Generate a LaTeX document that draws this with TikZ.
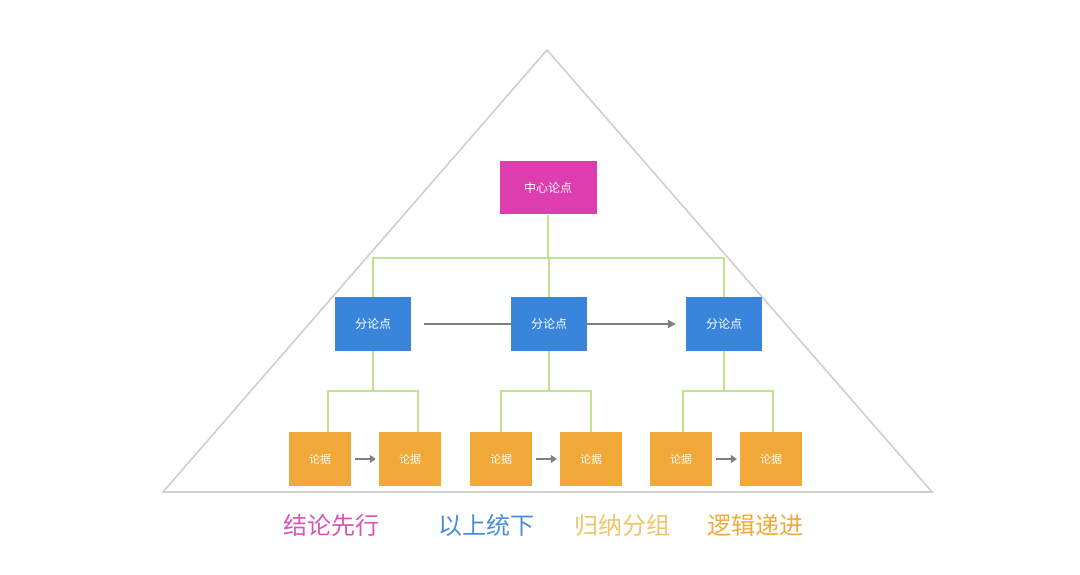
\documentclass[tikz,border=0pt]{standalone}
\usepackage{fontspec}
\setmainfont{Noto Sans CJK SC}
\usetikzlibrary{arrows.meta}
\definecolor{cpink}{HTML}{DD3DAF}
\definecolor{cblue}{HTML}{3A85DC}
\definecolor{corange}{HTML}{F0A838}
\definecolor{cgreen}{HTML}{BFE38F}
\definecolor{cgrayarr}{HTML}{7F7F82}
\definecolor{ctri}{HTML}{CFCFCF}
\definecolor{tpink}{HTML}{D954B8}
\definecolor{tblue}{HTML}{4A8FD6}
\definecolor{tyellow}{HTML}{EFC56A}
\definecolor{torange}{HTML}{EFAA3A}
\tikzset{
  centerbox/.style={fill=cpink, draw=none, minimum width=97pt, minimum height=53pt, text=white, font=\fontsize{12}{12}\selectfont, inner sep=0pt},
  subbox/.style={fill=cblue, draw=none, minimum width=76pt, minimum height=54pt, text=white, font=\fontsize{12}{12}\selectfont, inner sep=0pt},
  leafbox/.style={fill=corange, draw=none, minimum width=62pt, minimum height=54pt, text=white, font=\fontsize{11}{11}\selectfont, inner sep=0pt},
  tree/.style={draw=cgreen, line width=1.6pt},
  bigarrow/.style={draw=cgrayarr, line width=2.8pt, -{Triangle[length=8pt,width=8pt]}},
  bigline/.style={draw=cgrayarr, line width=2.8pt},
  smallarrow/.style={draw=cgrayarr, line width=2.4pt, -{Triangle[length=6pt,width=8pt]}},
  motto/.style={font=\fontsize{24}{24}\selectfont, inner sep=0pt},
}
\begin{document}
\begin{tikzpicture}[x=1pt, y=-1pt]
\useasboundingbox (0,0) rectangle (1080,575);
\fill[white] (0,0) rectangle (1080,575);
% pyramid outline
\draw[ctri, line width=1.6pt, line join=miter] (547,50) -- (932,492) -- (163,492) -- cycle;

% nodes
\node[centerbox] (c) at (548,188) {中心论点};
\node[subbox] (b1) at (373,324) {分论点};
\node[subbox] (b2) at (549,324) {分论点};
\node[subbox] (b3) at (724,324) {分论点};
\node[leafbox] (l1) at (320,459) {论据};
\node[leafbox] (l2) at (410,459) {论据};
\node[leafbox] (l3) at (501,459) {论据};
\node[leafbox] (l4) at (591,459) {论据};
\node[leafbox] (l5) at (681,459) {论据};
\node[leafbox] (l6) at (771,459) {论据};

% tree connectors
\draw[tree] (c.south) -- (548,258);
\draw[tree] (b1.north) |- (b3.north |- 0,258) -- (b3.north);
\draw[tree] (b2.north) -- (b2.north |- 0,258);
\foreach \p/\a/\b/\s in {b1/l1/l2/8pt, b2/l3/l4/0pt, b3/l5/l6/2pt}{
  \draw[tree] (\p.south) -- (\p.south |- 0,391);
  \draw[tree] ([xshift=\s]\a.north) |- ([xshift=\s]\b.north |- 0,391) -- ([xshift=\s]\b.north);
}

% gray arrows
\draw[bigline] ([xshift=13pt]b1.east) -- (b2.west);
\draw[bigarrow] (b2.east) -- ([xshift=-10pt]b3.west);
\draw[smallarrow] ([xshift=4pt]l1.east) -- ([xshift=-3pt]l2.west);
\draw[smallarrow] ([xshift=4pt]l3.east) -- ([xshift=-3pt]l4.west);
\draw[smallarrow] ([xshift=4pt]l5.east) -- ([xshift=-3pt]l6.west);

% mottos
\node[motto, text=tpink] (m1) at (331,525) {结论先行};
\node[motto, text=tblue] (m2) at (486,525) {以上统下};
\node[motto, text=tyellow] (m3) at (622,525) {归纳分组};
\node[motto, text=torange] (m4) at (755,525) {逻辑递进};
\end{tikzpicture}
\end{document}
